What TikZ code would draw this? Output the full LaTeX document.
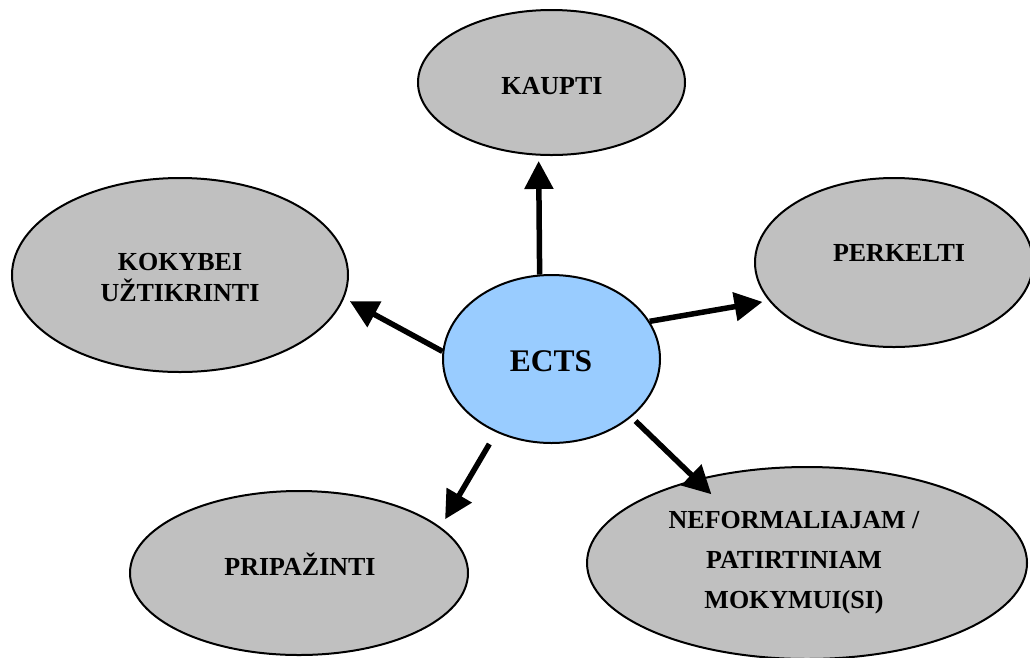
\documentclass[tikz,border=0pt]{standalone}
\usepackage{fontspec}
\setmainfont{Liberation Serif}
\usetikzlibrary{shapes.geometric,arrows.meta}
\definecolor{silverfill}{HTML}{C0C0C0}
\definecolor{ectsblue}{HTML}{99CCFF}
\begin{document}
\begin{tikzpicture}[x=1pt,y=-1pt,
  bubble/.style={ellipse, draw=black, line width=2pt, fill=silverfill, inner sep=0pt},
  lbl/.style={font=\bfseries\fontsize{26}{40}\selectfont, inner sep=0pt, align=center},
  arr/.style={line width=5.5pt, -{Triangle[length=28pt,width=28pt]}}]
\useasboundingbox (0,0) rectangle (1030,657);
\node[bubble, minimum width=267pt, minimum height=145pt] (kaupti) at (551.5,82.5) {};
\node[bubble, minimum width=336pt, minimum height=194pt] (kokybei) at (180,275) {};
\node[bubble, minimum width=278pt, minimum height=169pt] (perkelti) at (894,262.5) {};
\node[bubble, fill=ectsblue, minimum width=217pt, minimum height=168pt] (ects) at (551.5,359) {};
\node[bubble, minimum width=338pt, minimum height=164pt] (pripazinti) at (299,573) {};
\node[bubble, minimum width=440pt, minimum height=192pt] (neform) at (807,563) {};
\draw[arr, shorten >=5.3pt] (ects.98.6) -- (kaupti.260.2);
\draw[arr, shorten >=6.3pt] (ects.176) -- (kokybei.-8.8);
\draw[arr, shorten >=6.4pt] (ects.21) -- (perkelti.197.7);
\draw[arr, shorten <=13.5pt, shorten >=9pt] (ects.233.8) -- (pripazinti.18.2);
\draw[arr, shorten <=5.7pt, shorten >=-21.7pt] (ects.-36.1) -- (neform.143.4);
\node[lbl, anchor=base] (tkaupti) at (552,94.3) {KAUPTI};
\node[lbl, anchor=north, font=\bfseries\fontsize{26}{31}\selectfont] (tkokybei) at (180,252.8) {KOKYBEI\\UŽTIKRINTI};
\node[lbl, anchor=base] (tperkelti) at (899,261.7) {PERKELTI};
\node[lbl, anchor=base, font=\bfseries\fontsize{31.5}{36}\selectfont] (tects) at (551,371.7) {ECTS};
\node[lbl, anchor=base] (tprip) at (300,575) {PRIPAŽINTI};
\node[lbl, anchor=north] (tneform) at (794,511.4) {NEFORMALIAJAM /\\PATIRTINIAM\\MOKYMUI(SI)};
\end{tikzpicture}
\end{document}
